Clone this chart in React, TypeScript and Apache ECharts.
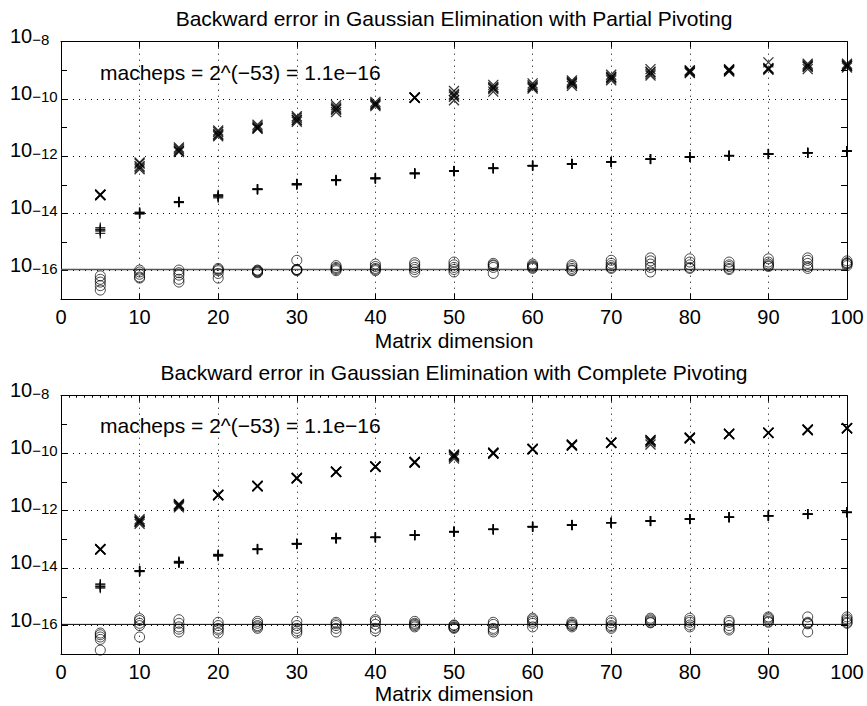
import React, { useEffect, useRef } from 'react';
import * as echarts from 'echarts';

const dims = [5, 10, 15, 20, 25, 30, 35, 40, 45, 50, 55, 60, 65, 70, 75, 80, 85, 90, 95, 100];
const xTicks = [0, 10, 20, 30, 40, 50, 60, 70, 80, 90, 100];
const MACHEPS = 1.1e-16;
const titles = [
  'Backward error in Gaussian Elimination with Partial Pivoting',
  'Backward error in Gaussian Elimination with Complete Pivoting',
];
const xName = 'Matrix dimension';
const machepsText = 'macheps = 2^(\u221253) = 1.1e\u221216';

// Partial pivoting: growth-related (x), backward error bound (+), backward error (o)
const partialCross = [
  [4.3e-14, 4.4e-14, 4.5e-14, 4.4e-14, 4.6e-14],
  [3.5e-13, 4.5e-13, 5.5e-13, 6e-13, 4e-13],
  [1.4e-12, 1.6e-12, 1.8e-12, 2e-12, 1.5e-12],
  [5e-12, 6e-12, 7e-12, 7.9e-12, 5.5e-12],
  [9e-12, 1.0e-11, 1.1e-11, 1.25e-11, 9.5e-12],
  [1.6e-11, 1.9e-11, 2.2e-11, 2.5e-11, 1.8e-11],
  [3.5e-11, 4.2e-11, 5e-11, 6e-11, 4.5e-11],
  [5.6e-11, 6.5e-11, 7e-11, 7.9e-11, 6.2e-11],
  [1.1e-10, 1.12e-10, 1.1e-10, 1.13e-10, 1.1e-10],
  [9e-11, 1.2e-10, 1.5e-10, 1.9e-10, 1.35e-10],
  [1.8e-10, 2.2e-10, 2.6e-10, 3.1e-10, 2.4e-10],
  [2.3e-10, 2.7e-10, 3e-10, 3.5e-10, 2.5e-10],
  [2.9e-10, 3.4e-10, 3.9e-10, 4.4e-10, 3.6e-10],
  [4.5e-10, 5.2e-10, 6e-10, 7e-10, 5.6e-10],
  [6.6e-10, 7.5e-10, 8.5e-10, 1.1e-9, 9e-10],
  [8e-10, 8.5e-10, 9e-10, 9.5e-10, 1e-9],
  [9e-10, 9.5e-10, 1e-9, 1.05e-9, 1.1e-9],
  [1.9e-9, 1.1e-9, 1.15e-9, 1.05e-9, 1.2e-9],
  [1.1e-9, 1.3e-9, 1.5e-9, 1.7e-9, 1.4e-9],
  [1.25e-9, 1.4e-9, 1.55e-9, 1.7e-9, 1.45e-9],
];
const partialPlus = [
  [2e-15, 2.4e-15, 2.8e-15, 3.2e-15, 2.6e-15],
  [1e-14, 1.05e-14, 1.1e-14, 9.5e-15, 1e-14],
  [2.5e-14, 2.5e-14, 2.6e-14, 2.4e-14, 2.5e-14],
  [3.5e-14, 4e-14, 4.5e-14, 3.8e-14, 4.2e-14],
  [6.8e-14, 7e-14, 7.2e-14, 7.1e-14, 6.9e-14],
  [1e-13, 1.05e-13, 1.1e-13, 1.08e-13, 1.02e-13],
  [1.4e-13, 1.45e-13, 1.5e-13, 1.48e-13, 1.42e-13],
  [1.6e-13, 1.7e-13, 1.75e-13, 1.65e-13, 1.72e-13],
  [2.4e-13, 2.5e-13, 2.6e-13, 2.55e-13, 2.45e-13],
  [3e-13, 3e-13, 3.1e-13, 3.05e-13, 2.95e-13],
  [3.7e-13, 3.8e-13, 3.9e-13, 3.75e-13, 3.85e-13],
  [4.5e-13, 4.6e-13, 4.8e-13, 4.7e-13, 4.65e-13],
  [5.3e-13, 5.4e-13, 5.4e-13, 5.3e-13, 5.35e-13],
  [6.2e-13, 6.3e-13, 6.4e-13, 6.3e-13, 6.35e-13],
  [7.8e-13, 7.9e-13, 8e-13, 7.9e-13, 7.95e-13],
  [9.2e-13, 9.3e-13, 9.4e-13, 9.3e-13, 9.35e-13],
  [1.02e-12, 1.04e-12, 1.06e-12, 1.05e-12, 1.03e-12],
  [1.18e-12, 1.2e-12, 1.21e-12, 1.2e-12, 1.19e-12],
  [1.3e-12, 1.31e-12, 1.33e-12, 1.32e-12, 1.31e-12],
  [1.5e-12, 1.51e-12, 1.52e-12, 1.5e-12, 1.51e-12],
];
const partialCircle = [
  [6.6e-17, 5e-17, 4e-17, 3e-17, 2.1e-17],
  [1.05e-16, 9e-17, 7.5e-17, 6e-17, 5.5e-17],
  [1.05e-16, 8.5e-17, 7e-17, 5e-17, 4e-17],
  [1.2e-16, 1.1e-16, 1e-16, 8e-17, 5.5e-17],
  [1.05e-16, 9.5e-17, 9e-17, 8.5e-17, 1e-16],
  [2.3e-16, 1.1e-16, 1.05e-16, 1e-16, 1.1e-16],
  [1.5e-16, 1.3e-16, 1.2e-16, 1.1e-16, 1.0e-16],
  [1.7e-16, 1.4e-16, 1.2e-16, 1e-16, 1.1e-16],
  [1.9e-16, 1.6e-16, 1.3e-16, 1.1e-16, 9e-17],
  [2e-16, 1.6e-16, 1.3e-16, 1.1e-16, 9e-17],
  [1.8e-16, 1.6e-16, 1.5e-16, 1.3e-16, 8e-17],
  [1.7e-16, 1.5e-16, 1.3e-16, 1.2e-16, 1.4e-16],
  [1.6e-16, 1.4e-16, 1.2e-16, 1.05e-16, 1e-16],
  [2.3e-16, 1.8e-16, 1.5e-16, 1.3e-16, 1.2e-16],
  [2.8e-16, 2.2e-16, 1.7e-16, 1.3e-16, 9e-17],
  [2.6e-16, 2e-16, 1.6e-16, 1.3e-16, 1.2e-16],
  [2e-16, 1.6e-16, 1.4e-16, 1.2e-16, 1.1e-16],
  [2.6e-16, 2e-16, 1.7e-16, 1.5e-16, 1.4e-16],
  [2.8e-16, 2.3e-16, 1.8e-16, 1.4e-16, 1.2e-16],
  [2.2e-16, 1.9e-16, 1.7e-16, 1.5e-16, 1.8e-16],
];

// Complete pivoting
const completeCross = [
  [4.4e-14, 4.5e-14, 4.5e-14, 4.4e-14, 4.6e-14],
  [3.5e-13, 4e-13, 4.5e-13, 5e-13, 4.2e-13],
  [1.3e-12, 1.5e-12, 1.6e-12, 1.7e-12, 1.45e-12],
  [3.4e-12, 3.5e-12, 3.6e-12, 3.5e-12, 3.45e-12],
  [7e-12, 7.2e-12, 7.3e-12, 7.1e-12, 7.2e-12],
  [1.3e-11, 1.35e-11, 1.4e-11, 1.33e-11, 1.37e-11],
  [2.2e-11, 2.25e-11, 2.3e-11, 2.2e-11, 2.25e-11],
  [3.3e-11, 3.4e-11, 3.5e-11, 3.4e-11, 3.35e-11],
  [4.6e-11, 4.8e-11, 5e-11, 4.7e-11, 4.9e-11],
  [6.5e-11, 7.5e-11, 8.5e-11, 9e-11, 8e-11],
  [9.5e-11, 1e-10, 1.05e-10, 1e-10, 1.02e-10],
  [1.35e-10, 1.4e-10, 1.4e-10, 1.38e-10, 1.42e-10],
  [1.8e-10, 1.9e-10, 2e-10, 1.95e-10, 1.85e-10],
  [2.25e-10, 2.3e-10, 2.35e-10, 2.3e-10, 2.28e-10],
  [2e-10, 2.4e-10, 2.8e-10, 2.6e-10, 2.9e-10],
  [3.2e-10, 3.4e-10, 3.5e-10, 3.3e-10, 3.45e-10],
  [4.5e-10, 4.7e-10, 4.8e-10, 4.6e-10, 4.75e-10],
  [5e-10, 5.1e-10, 5.2e-10, 5.1e-10, 5.15e-10],
  [6.2e-10, 6.5e-10, 6.7e-10, 6.4e-10, 6.6e-10],
  [7.2e-10, 7.4e-10, 7.5e-10, 7.3e-10, 7.45e-10],
];
const completePlus = [
  [2e-15, 2.3e-15, 2.6e-15, 2.8e-15, 2.2e-15],
  [7.5e-15, 8e-15, 8e-15, 7.8e-15, 8.2e-15],
  [1.5e-14, 1.6e-14, 1.7e-14, 1.55e-14, 1.65e-14],
  [2.6e-14, 2.8e-14, 3e-14, 2.9e-14, 2.7e-14],
  [4.4e-14, 4.6e-14, 4.6e-14, 4.5e-14, 4.7e-14],
  [6.8e-14, 7e-14, 7.2e-14, 7.1e-14, 6.9e-14],
  [1.05e-13, 1.1e-13, 1.12e-13, 1.08e-13, 1.15e-13],
  [1.15e-13, 1.18e-13, 1.2e-13, 1.17e-13, 1.19e-13],
  [1.38e-13, 1.4e-13, 1.42e-13, 1.4e-13, 1.41e-13],
  [1.8e-13, 1.85e-13, 1.9e-13, 1.87e-13, 1.83e-13],
  [2.2e-13, 2.24e-13, 2.26e-13, 2.22e-13, 2.25e-13],
  [2.7e-13, 2.75e-13, 2.8e-13, 2.76e-13, 2.72e-13],
  [3.1e-13, 3.15e-13, 3.2e-13, 3.17e-13, 3.12e-13],
  [3.75e-13, 3.8e-13, 3.85e-13, 3.8e-13, 3.82e-13],
  [4.3e-13, 4.35e-13, 4.4e-13, 4.36e-13, 4.38e-13],
  [5.05e-13, 5.1e-13, 5.15e-13, 5.12e-13, 5.08e-13],
  [5.8e-13, 5.9e-13, 5.95e-13, 5.88e-13, 5.92e-13],
  [6.5e-13, 6.6e-13, 6.7e-13, 6.62e-13, 6.65e-13],
  [7.5e-13, 7.6e-13, 7.65e-13, 7.58e-13, 7.62e-13],
  [8.6e-13, 8.7e-13, 8.8e-13, 8.75e-13, 8.7e-13],
];
const completeCircle = [
  [5.5e-17, 4.8e-17, 4e-17, 3.3e-17, 1.4e-17],
  [1.75e-16, 1.5e-16, 1.2e-16, 1.0e-16, 4e-17],
  [1.6e-16, 1.2e-16, 9e-17, 7.5e-17, 6e-17],
  [1.3e-16, 1e-16, 8e-17, 7e-17, 5.5e-17],
  [1.4e-16, 1.2e-16, 1e-16, 9e-17, 8e-17],
  [1.4e-16, 1e-16, 8e-17, 6.5e-17, 5.5e-17],
  [1.3e-16, 1.15e-16, 1e-16, 8e-17, 6e-17],
  [1.6e-16, 1.4e-16, 1.1e-16, 8e-17, 6.5e-17],
  [1.4e-16, 1.2e-16, 1.1e-16, 1e-16, 9e-17],
  [1.05e-16, 1e-16, 9e-17, 8.5e-17, 8e-17],
  [1.3e-16, 1.1e-16, 8e-17, 7e-17, 6e-17],
  [1.8e-16, 1.6e-16, 1.4e-16, 1.2e-16, 9e-17],
  [1.3e-16, 1.15e-16, 1e-16, 9e-17, 1.05e-16],
  [1.5e-16, 1.25e-16, 1e-16, 9e-17, 8e-17],
  [1.8e-16, 1.6e-16, 1.45e-16, 1.3e-16, 1.25e-16],
  [1.8e-16, 1.5e-16, 1.3e-16, 1.05e-16, 9e-17],
  [1.5e-16, 1.3e-16, 1e-16, 8e-17, 7e-17],
  [2e-16, 1.8e-16, 1.6e-16, 1.4e-16, 1.3e-16],
  [2e-16, 1.3e-16, 1.2e-16, 1.15e-16, 6e-17],
  [2e-16, 1.7e-16, 1.5e-16, 1.3e-16, 1.2e-16],
];

const FONT = '"Liberation Sans", Arial, Helvetica, sans-serif';
const CROSS = 'path://M0 0L10 10M10 0L0 10';
const PLUS = 'path://M5 0L5 10M0 5L10 5';

const toPairs = (arr: number[][]) => dims.flatMap((d, i) => arr[i].map((v) => [d, v]));

const yLabel = (v: number) => {
  const e = Math.round(Math.log10(v));
  if (e % 2 !== 0) return '';
  return `{b|10}{e|\u2212${-e}}`;
};

const plots = [
  { top: 41.7, height: 257.6, cross: partialCross, plus: partialPlus, circle: partialCircle, lineColor: '#555', lineWidth: 1.4, nameGap: 31, minor: false },
  { top: 395.7, height: 258.6, cross: completeCross, plus: completePlus, circle: completeCircle, lineColor: '#000', lineWidth: 1, nameGap: 29, minor: true },
];

function buildOption() {
  const axisLine = { show: true, onZero: false, lineStyle: { color: '#000', width: 1 } };
  const tick = { show: true, inside: true, length: 6, lineStyle: { color: '#000', width: 1 } };
  const grid: any[] = [];
  const xAxis: any[] = [];
  const yAxis: any[] = [];
  const series: any[] = [];
  const graphic: any[] = [];
  plots.forEach((p, i) => {
    grid.push({ left: 61, width: 786, top: p.top, height: p.height, show: false });
    xAxis.push({
      type: 'value', gridIndex: i, min: xTicks[0], max: xTicks[xTicks.length - 1], interval: 10, position: 'bottom',
      axisLine, axisTick: tick,
      axisLabel: { fontSize: 20, color: '#000', fontFamily: FONT, margin: 8 },
      splitLine: { show: true, lineStyle: { color: '#000', type: [1, 5], width: 1 } },
      name: xName, nameLocation: 'middle', nameGap: p.nameGap,
      nameTextStyle: { fontSize: 21, color: '#000', fontFamily: FONT },
    });
    xAxis.push({
      type: 'value', gridIndex: i, min: xTicks[0], max: xTicks[xTicks.length - 1], interval: 10, position: 'top',
      axisLine, axisTick: tick, axisLabel: { show: false }, splitLine: { show: false },
      minorTick: { show: p.minor, splitNumber: 10, length: 2, lineStyle: { color: '#000' } },
    });
    yAxis.push({
      type: 'log', logBase: 10, gridIndex: i, min: 1e-17, max: 1e-8, interval: 1, position: 'left',
      axisLine, axisTick: tick,
      axisLabel: {
        formatter: yLabel, align: 'left', margin: 51,
        rich: {
          b: { fontSize: 20, fontFamily: FONT, color: '#000', verticalAlign: 'bottom', lineHeight: 20, padding: [0, 0, 6, 0] },
          e: { fontSize: 15, fontFamily: FONT, color: '#000', verticalAlign: 'top', lineHeight: 14, padding: [0, 0, 15, 0] },
        },
      },
      splitLine: { show: true, lineStyle: { color: ['rgba(0,0,0,0)', '#000'], type: [1, 5], width: 1 } },
    });
    yAxis.push({
      type: 'log', logBase: 10, gridIndex: i, min: 1e-17, max: 1e-8, interval: 1, position: 'right',
      axisLine, axisTick: tick, axisLabel: { show: false }, splitLine: { show: false },
    });
    const xi = i * 2;
    const yi = i * 2;
    series.push({
      type: 'line', xAxisIndex: xi, yAxisIndex: yi, data: [[xTicks[0], MACHEPS], [xTicks[xTicks.length - 1], MACHEPS]],
      symbol: 'none', lineStyle: { color: p.lineColor, width: p.lineWidth }, silent: true, z: 2,
    });
    series.push({
      type: 'scatter', xAxisIndex: xi, yAxisIndex: yi, data: toPairs(p.cross), symbol: CROSS, symbolSize: 10,
      itemStyle: { color: 'rgba(0,0,0,0)', borderColor: '#000', borderWidth: 1.3 }, z: 3,
    });
    series.push({
      type: 'scatter', xAxisIndex: xi, yAxisIndex: yi, data: toPairs(p.plus), symbol: PLUS, symbolSize: 10,
      itemStyle: { color: 'rgba(0,0,0,0)', borderColor: '#000', borderWidth: 1.3 }, z: 3,
    });
    series.push({
      type: 'scatter', xAxisIndex: xi, yAxisIndex: yi, data: toPairs(p.circle), symbol: 'circle', symbolSize: 10,
      itemStyle: { color: 'rgba(0,0,0,0)', borderColor: '#000', borderWidth: 0.9 }, z: 3,
    });
    const titleY = i === 0 ? 18 : 372;
    const annY = i === 0 ? 72 : 425;
    graphic.push({
      type: 'text', x: 454, y: titleY, silent: true,
      style: { text: titles[i], fill: '#000', font: `21px ${FONT}`, align: 'center', verticalAlign: 'middle', textAlign: 'center', textVerticalAlign: 'middle' },
    });
    graphic.push({
      type: 'text', x: 100, y: annY, silent: true,
      style: { text: machepsText, fill: '#000', font: `21px ${FONT}`, align: 'left', verticalAlign: 'middle', textAlign: 'left', textVerticalAlign: 'middle' },
    });
  });
  return { animation: false, backgroundColor: '#fff', grid, xAxis, yAxis, series, graphic };
}

export default function App() {
  const ref = useRef<HTMLDivElement>(null);
  useEffect(() => {
    document.body.style.margin = '0';
    const chart = echarts.init(ref.current!, null, { renderer: 'svg' });
    chart.setOption(buildOption() as any);
    return () => chart.dispose();
  }, []);
  return <div ref={ref} style={{ width: 867, height: 706 }} />;
}
